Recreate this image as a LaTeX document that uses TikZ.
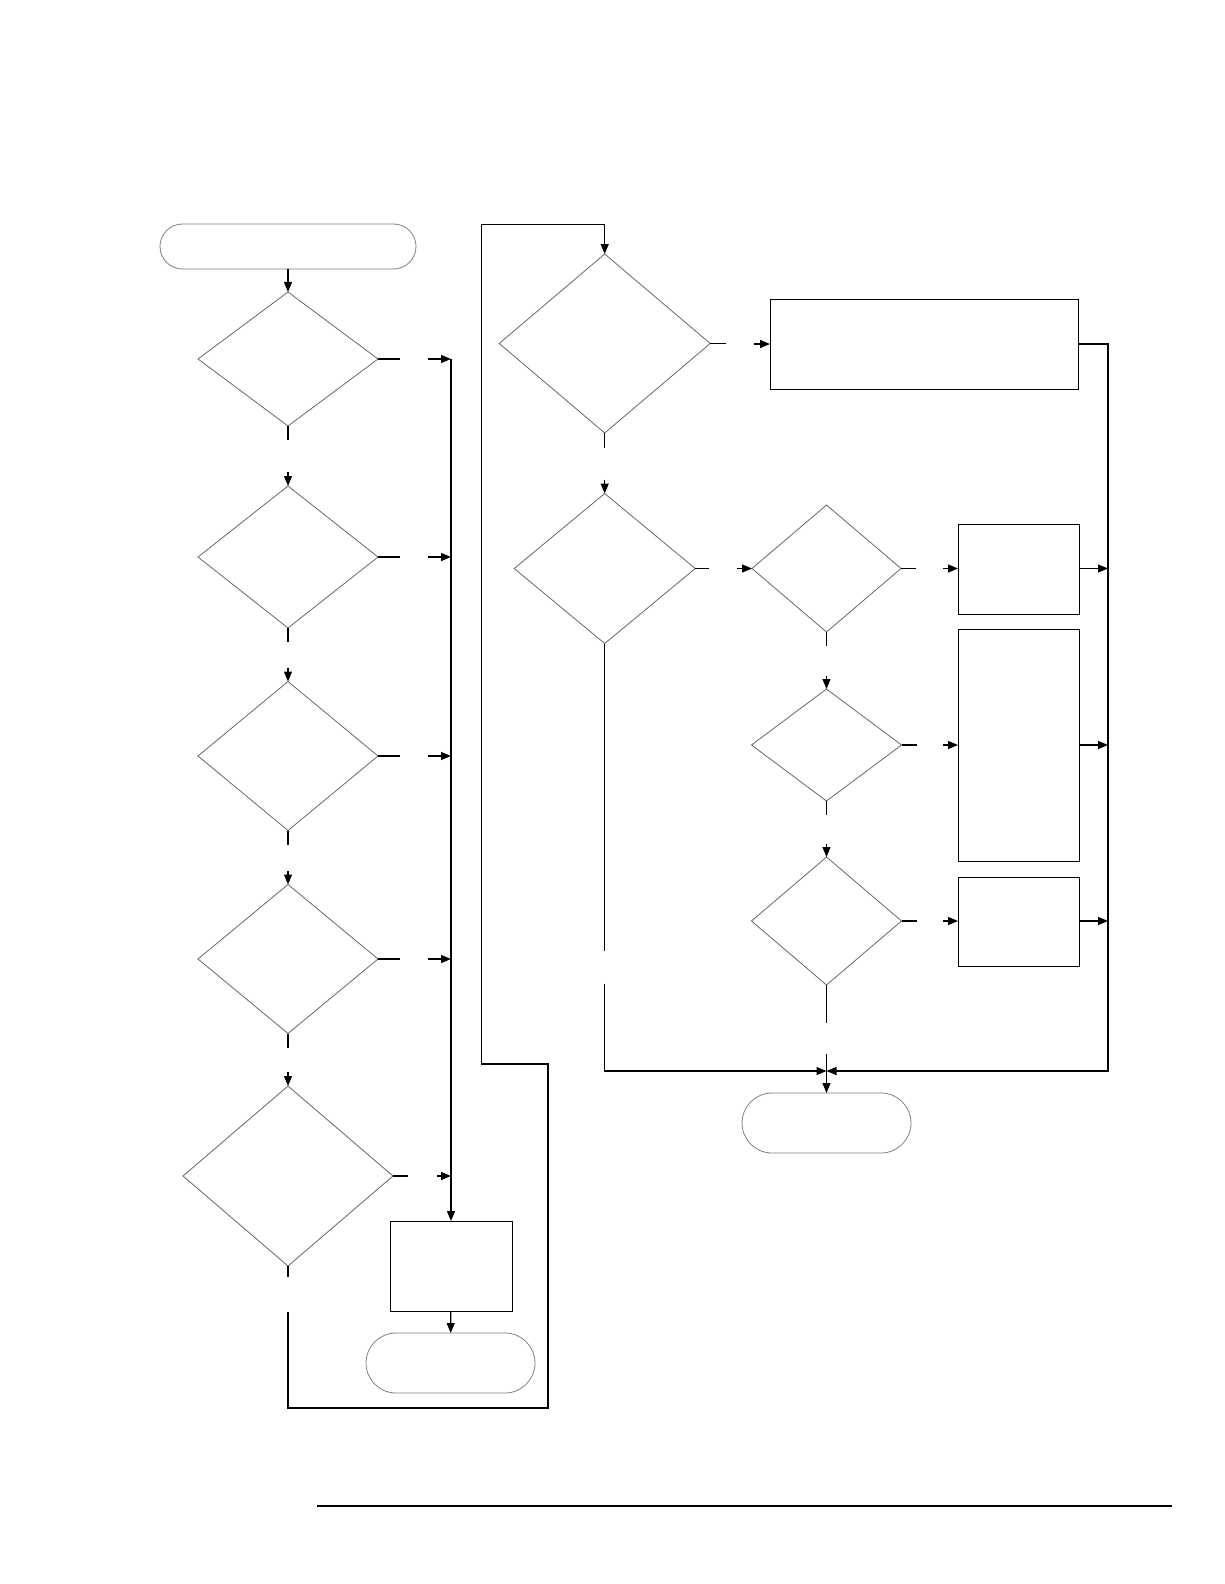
\documentclass[tikz,border=0pt]{standalone}
\usepackage{tikz}
\usetikzlibrary{shapes.geometric, arrows.meta, calc}

\begin{document}
\begin{tikzpicture}[x=1pt, y=-1pt,
    decision/.style={diamond, draw=black!60, line width=0.8pt, inner sep=0pt, outer sep=0pt},
    process/.style={rectangle, draw, line width=1pt, inner sep=0pt, outer sep=0pt},
    terminal/.style={rectangle, rounded corners=#1, draw=black!50, line width=0.8pt, inner sep=0pt, outer sep=0pt},
    link/.style={line width=1.2pt},
    arr/.style={link, -{Triangle[length=10pt, width=8pt]}}]

    \useasboundingbox (0,0) rectangle (1224,1584);

    % --- 1. LINKE SPALTE ---
    \node[terminal=22.5pt, minimum width=256pt, minimum height=45pt] (start) at (288,246.5) {};
    \node[decision, minimum width=180pt, minimum height=134pt] (d1) at (288,359) {};
    \node[decision, minimum width=180pt, minimum height=142pt] (d2) at (288,557) {};
    \node[decision, minimum width=180pt, minimum height=149pt] (d3) at (288,756) {};
    \node[decision, minimum width=180pt, minimum height=149pt] (d4) at (288,959) {};
    \node[decision, minimum width=210pt, minimum height=180pt] (d5) at (288,1176) {};
    \node[process, minimum width=122pt, minimum height=90pt] (bL) at (451,1266) {};
    \node[terminal=30pt, minimum width=169pt, minimum height=60pt] (endL) at (450.5,1363) {};
    \coordinate (bus) at (451,0);

    \draw[arr] (start) -- (d1);
    \foreach \a/\b in {d1/d2, d2/d3, d3/d4, d4/d5} {
        \draw[link] (\a.south) -- ++(0,14);
        \draw[arr] ($(\b.north)+(0,-14)$) -- (\b.north);
    }
    \foreach \d in {d1, d2, d3, d4} {
        \draw[link] (\d.east) -- ++(22,0);
        \draw[arr] ($(\d.east -| bus)+(-23,0)$) -- (\d.east -| bus);
    }
    \draw[link] (d5.east) -- ++(15,0);
    \draw[arr] ($(d5.east -| bus)+(-14,0)$) -- (d5.east -| bus);

    \draw[arr] (d1.east -| bus) -- (bL.north);
    \draw[arr] (bL) -- (endL);

    % --- 2. RECHTE SPALTE ---
    \node[decision, minimum width=211pt, minimum height=179pt] (r1) at (604.7,343.5) {};
    \node[process, minimum width=308pt, minimum height=90pt] (bA) at (924,344) {};
    \node[decision, minimum width=181pt, minimum height=150pt] (r2) at (604.7,568.5) {};
    \node[decision, minimum width=149pt, minimum height=127pt] (r3) at (826.5,568.5) {};
    \node[process, minimum width=121pt, minimum height=90pt] (b1) at (1018.5,569) {};
    \node[decision, minimum width=150pt, minimum height=112pt] (r4) at (826.5,745) {};
    \node[process, minimum width=121pt, minimum height=232pt] (b2) at (1018.5,745) {};
    \node[decision, minimum width=150pt, minimum height=128pt] (r5) at (826.5,921) {};
    \node[process, minimum width=121pt, minimum height=89pt] (b3) at (1018.5,921.5) {};
    \node[terminal=30pt, minimum width=169pt, minimum height=60pt] (endR) at (826.5,1123) {};
    \coordinate (rbus) at (1108,0);
    \coordinate (junc) at (826.5,1071);

    % Schleife von links nach rechts (hartcodierte Koordinaten)
    \coordinate (loop1) at (548,1408);
    \coordinate (loop2) at (548,1064);
    \coordinate (loop3) at (481.7,1064);
    \coordinate (loop4) at (481.7,224.3);
    \draw[link] (d5.south) -- ++(0,11);
    \draw[arr] ($(d5.south)+(0,46)$) -- (d5.south |- loop1) -- (loop1) -- (loop2) -- (loop3)
        -- (loop4) -- (loop4 -| r1.north) -- (r1.north);

    \draw[link] (r1.east) -- ++(16,0);
    \draw[arr] ($(bA.west)+(-16,0)$) -- (bA.west);
    \draw[link] (r1.south) -- ++(0,15);
    \draw[arr] ($(r2.north)+(0,-14)$) -- (r2.north);
    \draw[link] (r2.east) -- ++(14,0);
    \draw[arr] ($(r3.west)+(-15,0)$) -- (r3.west);

    \foreach \r/\b in {r3/b1, r4/b2, r5/b3} {
        \draw[link] (\r.east) -- ++(15,0);
        \draw[arr] ($(\r.east -| \b.west)+(-15,0)$) -- (\r.east -| \b.west);
        \draw[arr] (\r.east -| \b.east) -- (\r.east -| rbus);
    }
    \foreach \a/\b in {r3/r4, r4/r5} {
        \draw[link] (\a.south) -- ++(0,14);
        \draw[arr] ($(\b.north)+(0,-13)$) -- (\b.north);
    }

    % Zusammenfuehrung
    \draw[link] (r2.south) -- ++(0,307);
    \draw[arr] ($(r2.south)+(0,340)$) |- (junc);
    \draw[arr] (bA.east) -| (rbus |- junc) -- (junc);
    \draw[link] (r5.south) -- ++(0,38);
    \draw[arr] ($(r5.south)+(0,69)$) -- (endR.north);

    % --- FUSSLINIE ---
    \draw[line width=1.5pt] (317,1506) -- (1172,1506);

\end{tikzpicture}
\end{document}
